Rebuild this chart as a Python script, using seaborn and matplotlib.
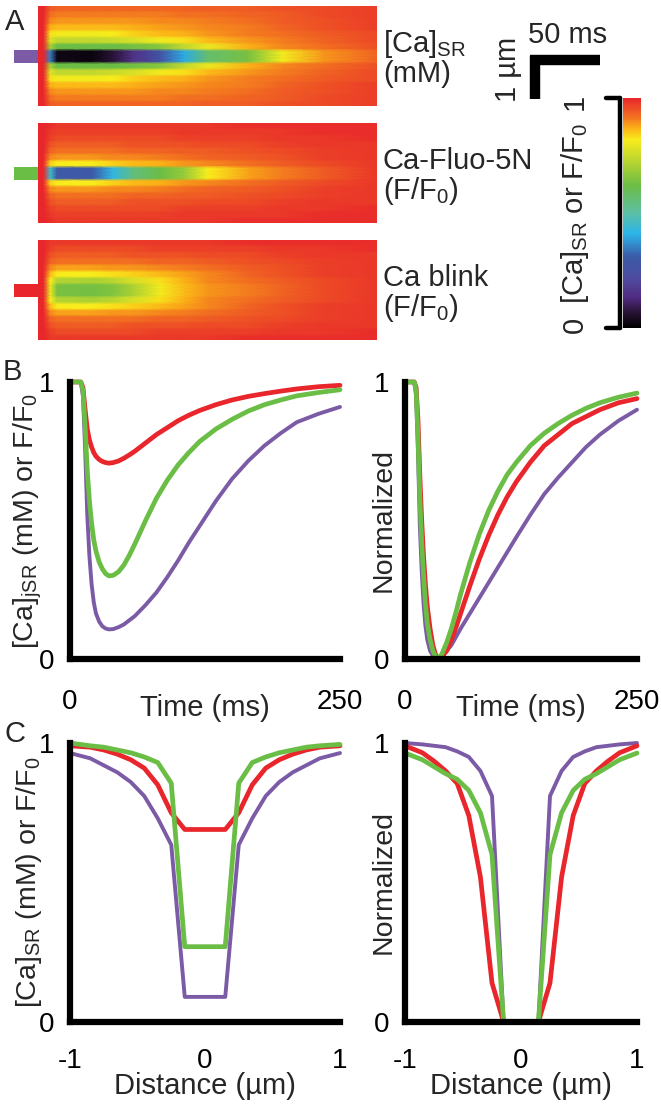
import numpy as np
import seaborn as sns
import matplotlib.pyplot as plt
from matplotlib.colors import LinearSegmentedColormap
from matplotlib.lines import Line2D
from matplotlib.patches import Rectangle

sns.set_style('white')
plt.rcParams['font.family'] = ['Liberation Sans', 'DejaVu Sans']
plt.rcParams['mathtext.fontset'] = 'custom'
plt.rcParams['mathtext.rm'] = 'Liberation Sans'
plt.rcParams['mathtext.it'] = 'Liberation Sans:italic'
plt.rcParams['mathtext.bf'] = 'Liberation Sans:bold'

RED = '#e8262b'
GREEN = '#6abd45'
PURPLE = '#7b5aa6'
W, H = 661, 1109

# ---- panel B : time courses at the release site ----
time_ms = [0, 10, 12, 14, 16, 18, 20, 22, 24, 27, 30, 33, 36, 40, 45, 50, 55, 60, 70, 80, 90,
           100, 110, 120, 135, 150, 165, 180, 195, 210, 230, 250]
sr_time = [1.0, 1.0, 0.95, 0.76, 0.52, 0.37, 0.27, 0.205, 0.165, 0.135, 0.118, 0.11, 0.107, 0.108,
           0.115, 0.125, 0.14, 0.155, 0.195, 0.24, 0.295, 0.355, 0.42, 0.48, 0.57, 0.65, 0.715,
           0.77, 0.815, 0.855, 0.885, 0.91]
fluo_time = [1.0, 1.0, 0.97, 0.84, 0.68, 0.57, 0.49, 0.43, 0.39, 0.35, 0.325, 0.308, 0.30, 0.302,
             0.315, 0.34, 0.375, 0.415, 0.50, 0.58, 0.645, 0.70, 0.745, 0.785, 0.83, 0.865, 0.895,
             0.918, 0.935, 0.95, 0.962, 0.972]
blink_time = [1.0, 1.0, 0.98, 0.90, 0.83, 0.79, 0.765, 0.745, 0.732, 0.72, 0.713, 0.709, 0.707,
              0.709, 0.715, 0.725, 0.737, 0.75, 0.78, 0.81, 0.835, 0.86, 0.88, 0.897, 0.918,
              0.935, 0.948, 0.958, 0.967, 0.975, 0.983, 0.988]
sr_time_norm = [1.0, 1.0, 0.95, 0.75, 0.48, 0.32, 0.20, 0.12, 0.07, 0.03, 0.012, 0.003, 0.0,
                0.008, 0.03, 0.05, 0.08, 0.11, 0.165, 0.22, 0.275, 0.33, 0.385, 0.44, 0.52,
                0.595, 0.655, 0.71, 0.765, 0.81, 0.86, 0.90]
fluo_time_norm = [1.0, 1.0, 0.97, 0.80, 0.58, 0.42, 0.30, 0.20, 0.13, 0.07, 0.03, 0.008, 0.0,
                  0.02, 0.06, 0.11, 0.17, 0.235, 0.35, 0.45, 0.535, 0.605, 0.665, 0.71, 0.77,
                  0.815, 0.85, 0.88, 0.905, 0.925, 0.945, 0.96]
blink_time_norm = [1.0, 1.0, 0.98, 0.86, 0.66, 0.50, 0.37, 0.27, 0.19, 0.11, 0.05, 0.015, 0.0,
                   0.01, 0.03, 0.07, 0.115, 0.165, 0.265, 0.36, 0.445, 0.52, 0.585, 0.64, 0.71,
                   0.77, 0.81, 0.85, 0.875, 0.90, 0.925, 0.94]

# ---- panel C : spatial profiles at the peak ----
dist_um = [-1.0, -0.85, -0.75, -0.65, -0.55, -0.45, -0.35, -0.25, -0.15, 0.15, 0.25, 0.35, 0.45,
           0.55, 0.65, 0.75, 0.85, 1.0]
sr_space = [0.964, 0.945, 0.92, 0.895, 0.86, 0.81, 0.73, 0.635, 0.09, 0.09, 0.635, 0.73, 0.81,
            0.86, 0.895, 0.92, 0.945, 0.964]
fluo_space = [1.0, 0.99, 0.985, 0.975, 0.965, 0.95, 0.93, 0.856, 0.27, 0.27, 0.856, 0.93, 0.95,
              0.965, 0.975, 0.985, 0.99, 0.995]
blink_space = [0.99, 0.985, 0.975, 0.96, 0.94, 0.91, 0.85, 0.75, 0.69, 0.69, 0.75, 0.85, 0.91,
               0.94, 0.96, 0.975, 0.985, 0.99]
sr_space_norm = [1.0, 0.995, 0.99, 0.985, 0.97, 0.95, 0.90, 0.81, 0.0, 0.0, 0.81, 0.90, 0.95,
                 0.97, 0.985, 0.99, 0.995, 1.0]
fluo_space_norm = [0.964, 0.94, 0.915, 0.89, 0.87, 0.83, 0.75, 0.60, 0.0, 0.0, 0.60, 0.75, 0.83,
                   0.87, 0.89, 0.915, 0.94, 0.964]
blink_space_norm = [0.99, 0.965, 0.935, 0.90, 0.855, 0.74, 0.52, 0.14, 0.0, 0.0, 0.14, 0.52, 0.74,
                    0.855, 0.90, 0.935, 0.965, 0.99]

# ---- panel A : line-scan images, rows from centre outwards ----
map_time = [0, 4, 9, 14, 40, 55, 70, 90, 108, 125, 155, 180, 210, 250]
sr_map = [
    [1.0, 1.0, 0.35, 0.03, 0.02, 0.07, 0.15, 0.27, 0.40, 0.57, 0.64, 0.81, 0.89, 0.93],
    [1.0, 1.0, 0.70, 0.62, 0.62, 0.62, 0.63, 0.66, 0.74, 0.80, 0.87, 0.90, 0.92, 0.95],
    [1.0, 1.0, 0.78, 0.74, 0.74, 0.75, 0.77, 0.81, 0.83, 0.86, 0.89, 0.91, 0.93, 0.96],
    [1.0, 1.0, 0.83, 0.81, 0.81, 0.82, 0.84, 0.86, 0.87, 0.89, 0.91, 0.92, 0.94, 0.96],
    [1.0, 1.0, 0.87, 0.86, 0.86, 0.86, 0.87, 0.88, 0.89, 0.90, 0.91, 0.93, 0.95, 0.97],
    [1.0, 1.0, 0.90, 0.89, 0.89, 0.89, 0.89, 0.90, 0.90, 0.91, 0.92, 0.94, 0.95, 0.97],
    [1.0, 1.0, 0.92, 0.91, 0.91, 0.91, 0.91, 0.91, 0.92, 0.92, 0.93, 0.94, 0.96, 0.97],
    [1.0, 1.0, 0.94, 0.93, 0.93, 0.93, 0.93, 0.93, 0.93, 0.94, 0.94, 0.95, 0.96, 0.97],
]
fluo_map = [
    [1.0, 1.0, 0.45, 0.30, 0.30, 0.42, 0.55, 0.62, 0.68, 0.82, 0.88, 0.91, 0.94, 0.98],
    [1.0, 1.0, 0.84, 0.82, 0.82, 0.84, 0.86, 0.87, 0.89, 0.90, 0.92, 0.94, 0.96, 0.98],
    [1.0, 1.0, 0.90, 0.89, 0.89, 0.90, 0.90, 0.91, 0.92, 0.93, 0.94, 0.95, 0.97, 0.98],
    [1.0, 1.0, 0.93, 0.92, 0.92, 0.92, 0.93, 0.93, 0.94, 0.94, 0.95, 0.96, 0.97, 0.98],
    [1.0, 1.0, 0.95, 0.94, 0.94, 0.94, 0.95, 0.95, 0.95, 0.96, 0.96, 0.97, 0.98, 0.98],
    [1.0, 1.0, 0.97, 0.96, 0.96, 0.96, 0.96, 0.96, 0.97, 0.97, 0.97, 0.98, 0.98, 0.99],
    [1.0, 1.0, 0.98, 0.97, 0.97, 0.97, 0.97, 0.97, 0.98, 0.98, 0.98, 0.98, 0.99, 0.99],
    [1.0, 1.0, 0.99, 0.98, 0.98, 0.98, 0.98, 0.98, 0.98, 0.98, 0.99, 0.99, 0.99, 0.99],
]
blink_map = [
    [1.0, 1.0, 0.80, 0.64, 0.63, 0.65, 0.71, 0.81, 0.86, 0.89, 0.91, 0.93, 0.96, 0.98],
    [1.0, 1.0, 0.82, 0.72, 0.71, 0.73, 0.77, 0.83, 0.87, 0.90, 0.92, 0.94, 0.96, 0.98],
    [1.0, 1.0, 0.86, 0.82, 0.82, 0.83, 0.84, 0.86, 0.88, 0.90, 0.93, 0.95, 0.97, 0.98],
    [1.0, 1.0, 0.90, 0.88, 0.88, 0.89, 0.89, 0.90, 0.91, 0.92, 0.94, 0.95, 0.97, 0.98],
    [1.0, 1.0, 0.93, 0.92, 0.92, 0.92, 0.92, 0.93, 0.93, 0.94, 0.95, 0.96, 0.97, 0.98],
    [1.0, 1.0, 0.95, 0.94, 0.94, 0.94, 0.95, 0.95, 0.95, 0.96, 0.96, 0.97, 0.98, 0.98],
    [1.0, 1.0, 0.97, 0.96, 0.96, 0.96, 0.96, 0.97, 0.97, 0.97, 0.97, 0.98, 0.98, 0.99],
    [1.0, 1.0, 0.98, 0.98, 0.98, 0.98, 0.98, 0.98, 0.98, 0.98, 0.99, 0.99, 0.99, 0.99],
]

cmap_stops = [0.0, 0.06, 0.13, 0.21, 0.31, 0.41, 0.50, 0.62, 0.74, 0.82, 0.87, 0.92, 1.0]
cmap_colors = ['#000000', '#24102e', '#512b80', '#4f4a9e', '#3b5ba8', '#2cb5e8', '#5cbfa5',
               '#6cbd45', '#c2d82e', '#f8ec1c', '#fbb117', '#f26f21', '#e8262b']
cmap = LinearSegmentedColormap.from_list('casr', list(zip(cmap_stops, cmap_colors)))


def box(x0, y0, x1, y1):
    # pixel box (top-left origin) -> figure fraction rect
    return [x0 / W, 1 - y1 / H, (x1 - x0) / W, (y1 - y0) / H]


def fig_line(fig, xs, ys, lw, color='k', cap='butt'):
    fig.add_artist(Line2D([x / W for x in xs], [1 - y / H for y in ys], color=color, lw=lw,
                          solid_capstyle=cap, transform=fig.transFigure))


fig = plt.figure(figsize=(W / 100, H / 100), dpi=100)

# ---------------- A ----------------
maps = [(sr_map, PURPLE, 6, r'[Ca]$_{\mathrm{SR}}$', '(mM)'),
        (fluo_map, GREEN, 123, 'Ca-Fluo-5N', r'(F/F$_{\mathrm{0}}$)'),
        (blink_map, RED, 240, 'Ca blink', r'(F/F$_{\mathrm{0}}$)')]
mesh = None
for rows, col, top, lab1, lab2 in maps:
    ax = fig.add_axes(box(38, top, 377, top + 100))
    rows = np.array(rows)
    full = np.vstack([rows[::-1], rows])
    vals = np.repeat(full, 2, axis=0)
    ys = np.ravel([[i + 0.2, i + 0.8] for i in range(full.shape[0])])
    mesh = ax.pcolormesh(map_time, ys, vals, shading='gouraud', cmap=cmap, vmin=0, vmax=1)
    ax.set_xlim(0, 250)
    ax.set_ylim(0.2, full.shape[0] - 0.2)
    ax.axis('off')
    fig.add_artist(Rectangle((14 / W, 1 - (top + 57) / H), 24 / W, 13 / H, color=col,
                             transform=fig.transFigure, lw=0))
    fig.text(383 / W, 1 - (top + 46) / H, lab1, fontsize=21, va='baseline', ha='left')
    fig.text(383 / W, 1 - (top + 76) / H, lab2, fontsize=21, va='baseline', ha='left')

fig.text(5 / W, 1 - 8 / H, 'A', fontsize=21, va='top', ha='left')

# scale bar
fig_line(fig, [530, 600], [60, 60], 7.5)
fig_line(fig, [535, 535], [56, 99], 7.5)
fig.text(528 / W, 1 - 43 / H, '50 ms', fontsize=21, va='baseline', ha='left')
fig.text(508 / W, 1 - 69 / H, '1 µm', fontsize=21, rotation=90, va='center', ha='center')

# colour bar with bracket
cax = fig.add_axes(box(623, 98, 641, 328))
cb = fig.colorbar(mesh, cax=cax)
cb.outline.set_visible(False)
cax.set_yticks([])
fig_line(fig, [620, 620], [98, 328], 3.2, cap='round')
fig_line(fig, [606, 620], [98, 98], 3.2, cap='round')
fig_line(fig, [606, 620], [328, 328], 3.2, cap='round')
fig.text(575 / W, 1 - 102 / H, '1', fontsize=21, rotation=90, va='center', ha='center')
fig.text(575 / W, 1 - 325 / H, '0', fontsize=21, rotation=90, va='center', ha='center')
fig.text(575 / W, 1 - 213 / H, r'[Ca]$_{\mathrm{SR}}$ or F/F$_{\mathrm{0}}$', fontsize=21,
         rotation=90, va='center', ha='center')


# ---------------- B and C ----------------
def style(ax, xlim, xticks, xlabs, yticks, ylabs, xlabel, ylabel, xpad, xlab_y, ylab_x):
    ax.set_xlim(*xlim)
    ax.set_ylim(0, 1)
    for s in ['top', 'right']:
        ax.spines[s].set_visible(False)
    for s in ['left', 'bottom']:
        ax.spines[s].set_linewidth(4.5)
        ax.spines[s].set_color('k')
        ax.spines[s].set_capstyle('projecting')
    ax.set_xticks(xticks)
    ax.set_xticklabels(xlabs)
    ax.set_yticks(yticks)
    ax.set_yticklabels(ylabs)
    ax.tick_params(axis='both', direction='out', length=8, width=4.5, color='k',
                   labelsize=20, labelcolor='k')
    ax.tick_params(axis='x', pad=xpad)
    ax.tick_params(axis='y', pad=3)
    ax.set_xlabel(xlabel, fontsize=21)
    ax.set_ylabel(ylabel, fontsize=20.5)
    ax.xaxis.set_label_coords(0.5, xlab_y)
    ax.yaxis.set_label_coords(ylab_x, 0.5)
    for ln in ax.lines:
        ln.set_clip_on(False)
        ln.set_solid_joinstyle('round')


def draw(ax, x, purple, red, green):
    sns.lineplot(x=x, y=purple, color=PURPLE, linewidth=2.8, ax=ax, estimator=None, sort=False)
    sns.lineplot(x=x, y=red, color=RED, linewidth=3.4, ax=ax, estimator=None, sort=False)
    sns.lineplot(x=x, y=green, color=GREEN, linewidth=3.4, ax=ax, estimator=None, sort=False)


t_ticks = [0, 50, 100, 150, 200, 250]
t_labs = ['0', '', '', '', '', '250']
d_ticks = [-1, -0.5, 0, 0.5, 1]
d_labs = ['-1', '', '0', '', '1']
y_full = [0, 0.2, 0.4, 0.6, 0.8, 1.0]

ax = fig.add_axes(box(70, 382, 340, 659))
draw(ax, time_ms, sr_time, blink_time, fluo_time)
style(ax, (0, 250), t_ticks, t_labs, y_full, ['0', '', '', '', '', '1'], 'Time (ms)',
      r'[Ca]$_{\mathrm{jSR}}$ (mM) or F/F$_{\mathrm{0}}$', 13.5, -0.125, -0.095)

ax = fig.add_axes(box(405, 382, 637, 659))
draw(ax, time_ms, sr_time_norm, blink_time_norm, fluo_time_norm)
style(ax, (0, 250), t_ticks, t_labs, [0, 1], ['0', '1'], 'Time (ms)', 'Normalized',
      13.5, -0.125, -0.035)

ax = fig.add_axes(box(70, 743, 340, 1022))
draw(ax, dist_um, sr_space, blink_space, fluo_space)
style(ax, (-1, 1), d_ticks, d_labs, y_full, ['0', '', '', '', '', '1'], 'Distance (µm)',
      r'[Ca]$_{\mathrm{SR}}$ (mM) or F/F$_{\mathrm{0}}$', 11, -0.18, -0.095)

ax = fig.add_axes(box(405, 743, 637, 1022))
draw(ax, dist_um, sr_space_norm, blink_space_norm, fluo_space_norm)
style(ax, (-1, 1), d_ticks, d_labs, [0, 1], ['0', '1'], 'Distance (µm)', 'Normalized',
      11, -0.18, -0.035)

fig.text(3 / W, 1 - 358 / H, 'B', fontsize=21, va='top', ha='left')
fig.text(4 / W, 1 - 720 / H, 'C', fontsize=21, va='top', ha='left')

fig.savefig('out.png', dpi=100)
